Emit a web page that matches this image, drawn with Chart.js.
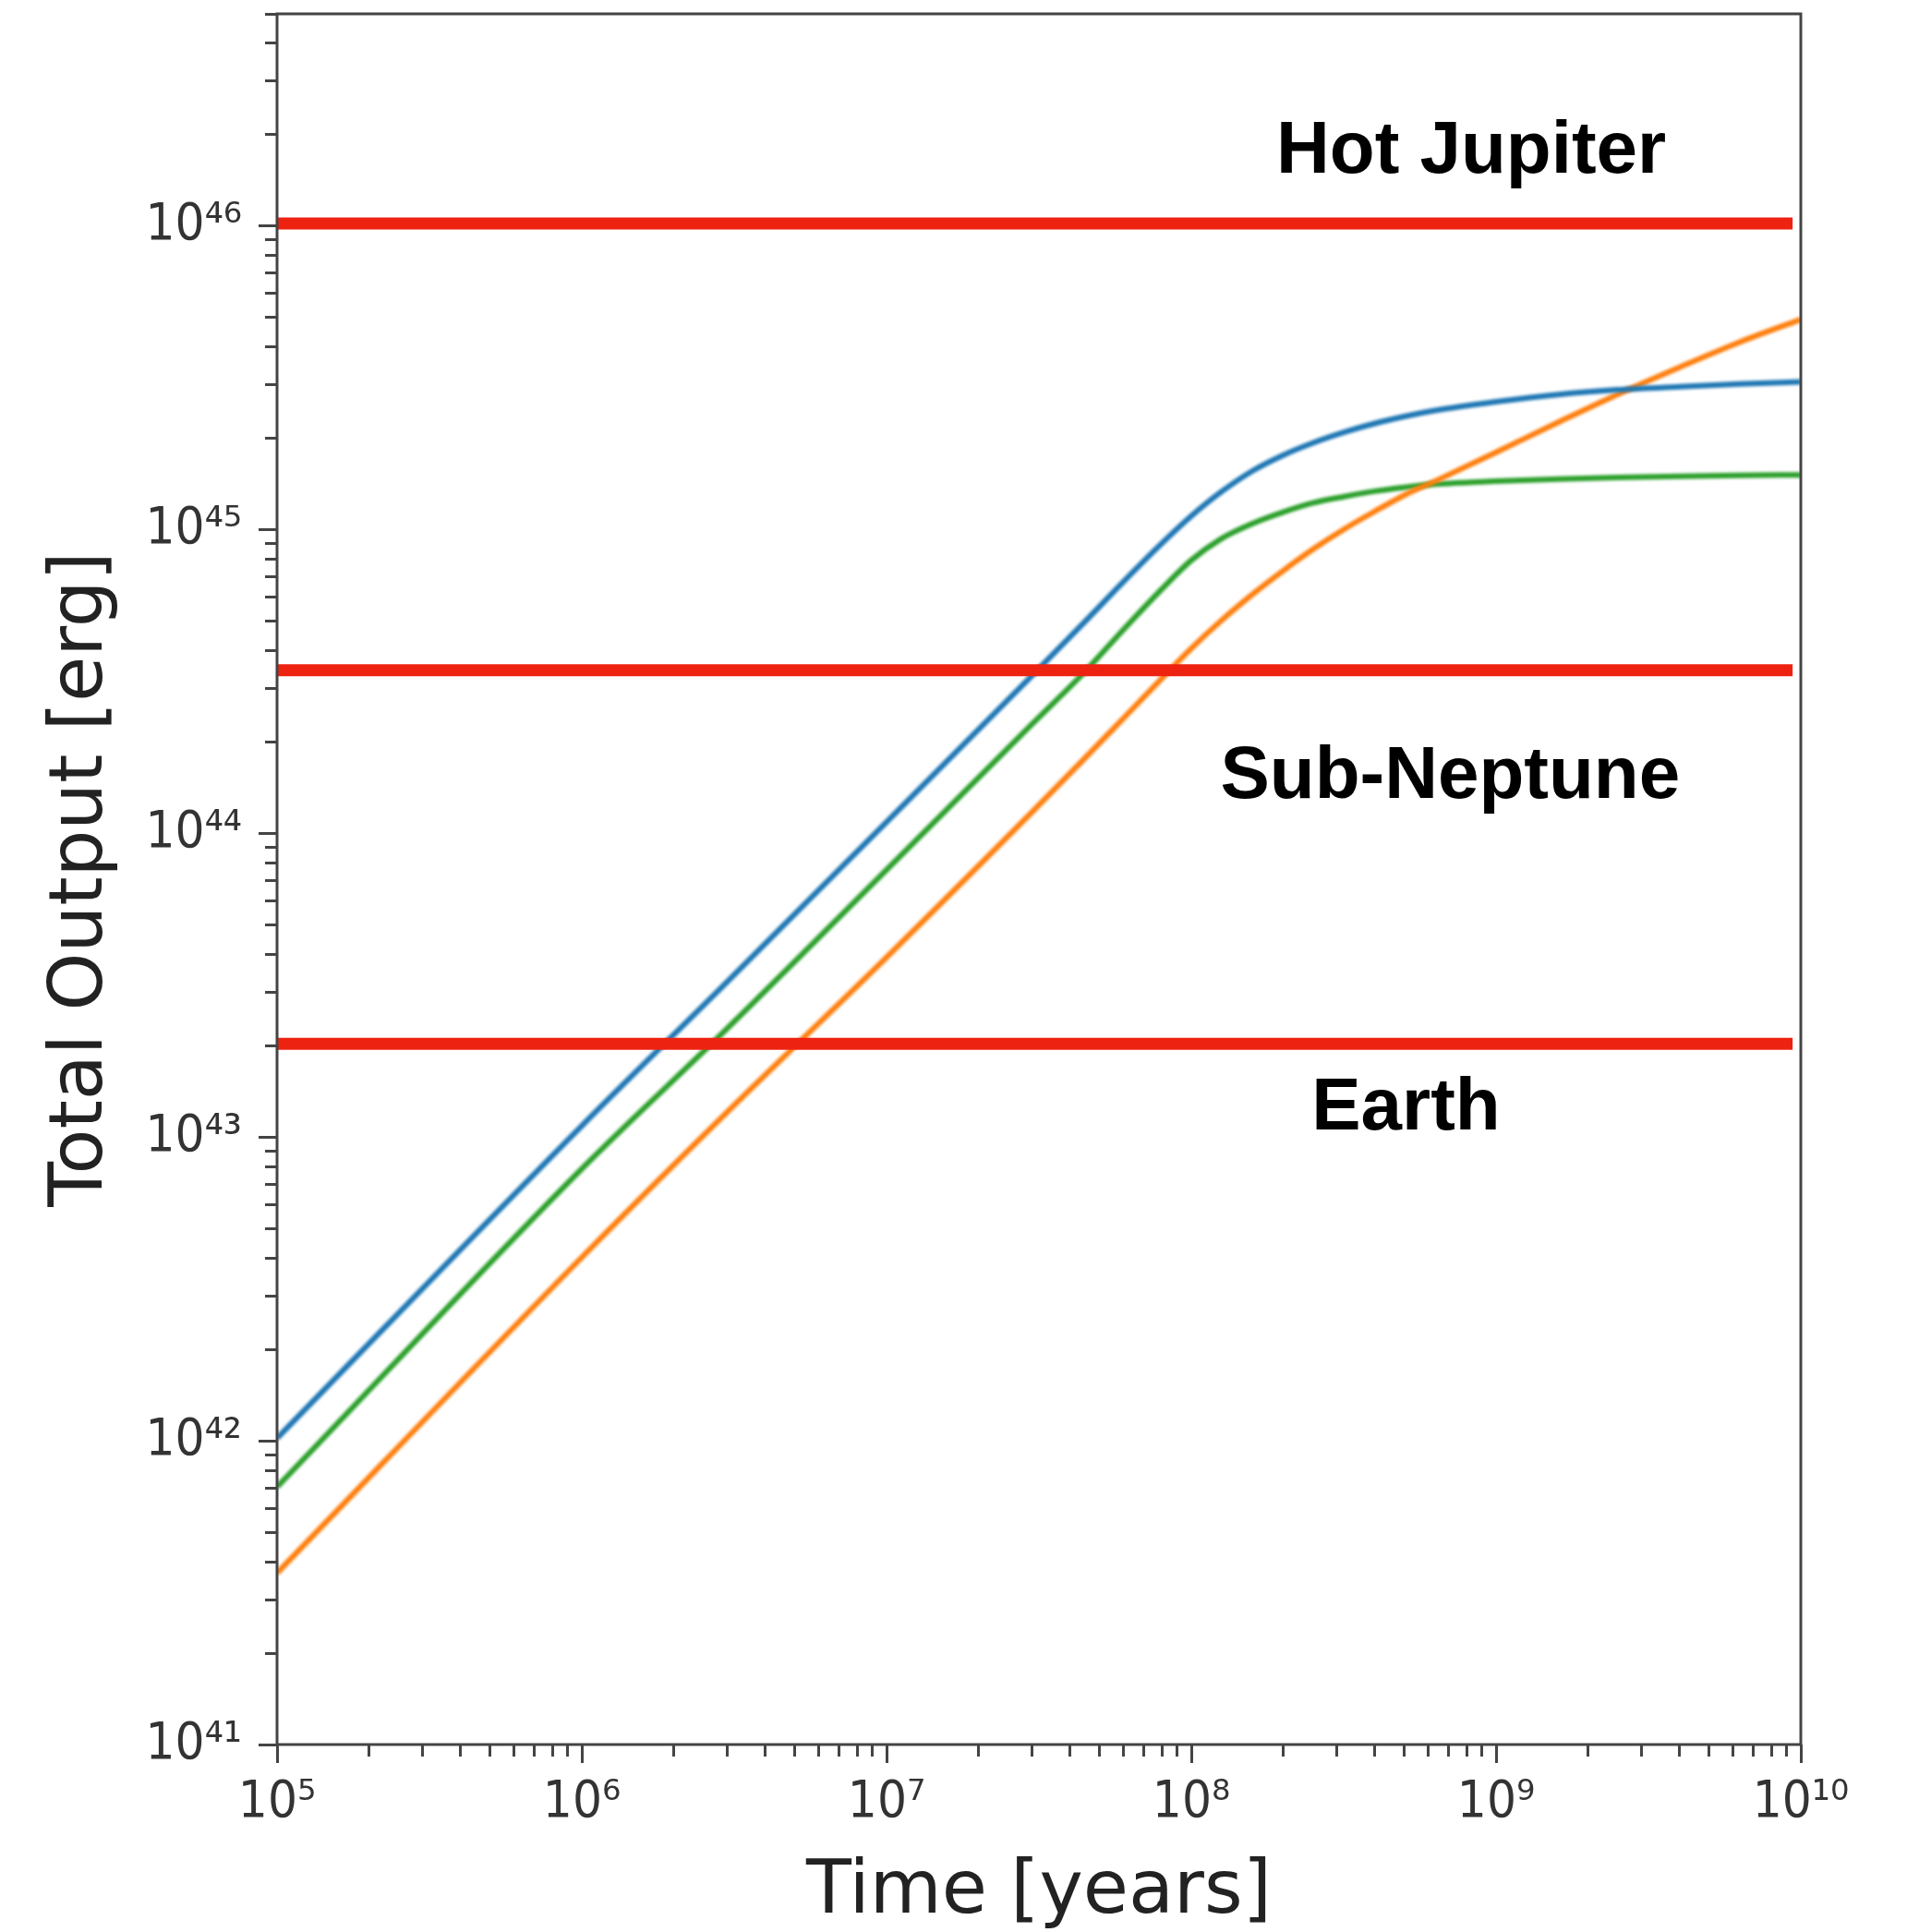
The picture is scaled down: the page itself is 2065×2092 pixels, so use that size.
<!DOCTYPE html>
<html lang="en">
<head>
  <meta charset="UTF-8" />
  <title>Total Output vs Time</title>
  <script src="https://cdn.jsdelivr.net/npm/chart.js"></script>
  <style>
    html, body { margin: 0; padding: 0; background: #fff; }
    .wrap { width: 2065px; height: 2092px; position: relative; }
  </style>
</head>
<body>
  <div class="wrap"><canvas id="outputChart"></canvas></div>

  <script>
    // time grid [years] shared by the three model curves
    const timeYears = [1e5, 1e6, 3e6, 1e7, 3e7, 4.5e7, 6e7, 8e7, 1e8, 1.25e8, 1.6e8, 2e8,
                       2.5e8, 3.2e8, 4e8, 5e8, 6.3e8, 1e9, 1.6e9, 2.5e9, 4e9, 6.3e9, 1e10];

    // cumulative output [erg] for each model
    const blueOutput = [1.02e42, 1.09e43, 3.25e43, 1.09e44, 3.31e44, 5.01e44, 6.76e44, 9.02e44,
                        1.11e45, 1.33e45, 1.57e45, 1.76e45, 1.93e45, 2.10e45, 2.24e45, 2.36e45,
                        2.47e45, 2.64e45, 2.79e45, 2.89e45, 2.96e45, 3.02e45, 3.07e45];
    const orangeOutput = [3.67e41, 4.02e42, 1.21e43, 3.91e43, 1.175e44, 1.78e44, 2.40e44, 3.24e44,
                          4.07e44, 5.01e44, 6.17e44, 7.33e44, 8.61e44, 1.01e45, 1.15e45, 1.30e45,
                          1.445e45, 1.80e45, 2.26e45, 2.79e45, 3.43e45, 4.15e45, 4.93e45];
    const greenOutput = [7.05e41, 7.87e42, 2.28e43, 7.59e43, 2.29e44, 3.43e44, 4.70e44, 6.38e44,
                         7.94e44, 9.33e44, 1.052e45, 1.143e45, 1.225e45, 1.288e45, 1.34e45, 1.38e45,
                         1.413e45, 1.445e45, 1.469e45, 1.486e45, 1.50e45, 1.51e45, 1.517e45];

    // energy needed for each planet class [erg]
    const planetNames = ['Hot Jupiter', 'Sub-Neptune', 'Earth'];
    const planetEnergy = [1.02e46, 3.45e44, 2.03e43];
    const planetSpan = [1e5, 9.4e9];

    // label anchors in data units (left edge, baseline)
    const labelTime = [1.9e8, 1.245e8, 2.48e8];
    const labelEnergy = [1.5e46, 1.31e44, 1.06e43];

    // axis limits and decades that get a label
    const xMin = 1e5, xMax = 1e10;
    const yMin = 1e41, yMax = 5e46;
    const xDecades = [5, 6, 7, 8, 9, 10];
    const yDecades = [41, 42, 43, 44, 45, 46];

    const SUP = { '0': '⁰', '1': '¹', '2': '²', '3': '³', '4': '⁴', '5': '⁵', '6': '⁶', '7': '⁷', '8': '⁸', '9': '⁹' };
    const TICK_FONT = "'DejaVu Sans Condensed', 'DejaVu Sans', sans-serif";

    // major tick at each decade, minor ticks at 2..9 in between
    function logTicks(decades, top) {
      const ticks = [];
      decades.forEach(e => {
        for (let m = 1; m <= 9; m++) {
          const v = m * Math.pow(10, e);
          if (v > top * 1.0001) break;
          ticks.push({ value: v, major: m === 1 });
        }
      });
      return ticks;
    }
    const xTicks = logTicks(xDecades, xMax);
    const yTicks = logTicks(yDecades, yMax);

    function powerLabel(value) {
      const e = Math.round(Math.log10(value));
      if (Math.abs(value / Math.pow(10, e) - 1) > 1e-6) return '';
      return '10' + String(e).split('').map(d => SUP[d]).join('');
    }

    function series(values) {
      return timeYears.map((t, i) => ({ x: t, y: values[i] }));
    }

    const curveStyle = { borderWidth: 6, pointRadius: 0, fill: false, cubicInterpolationMode: 'monotone', order: 2 };

    const datasets = [
      Object.assign({ label: 'blue', data: series(blueOutput), borderColor: '#1f77b4' }, curveStyle),
      Object.assign({ label: 'orange', data: series(orangeOutput), borderColor: '#ff7f0e' }, curveStyle),
      Object.assign({ label: 'green', data: series(greenOutput), borderColor: '#2ca02c' }, curveStyle)
    ];
    planetEnergy.forEach((e, i) => {
      datasets.push({
        label: planetNames[i],
        data: planetSpan.map(t => ({ x: t, y: e })),
        borderColor: '#ee2211',
        borderWidth: 13,
        pointRadius: 0,
        order: 1
      });
    });

    // model curves are slightly soft, the planet lines are crisp
    const softCurves = {
      id: 'softCurves',
      beforeDatasetDraw(chart, args) {
        if (args.index < 3) {
          chart.ctx.save();
          chart.ctx.filter = 'blur(1.5px)';
        }
      },
      afterDatasetDraw(chart, args) {
        if (args.index < 3) chart.ctx.restore();
      }
    };

    // axes box on all four sides
    const frame = {
      id: 'frame',
      afterDatasetsDraw(chart) {
        const { ctx, chartArea: a } = chart;
        ctx.save();
        ctx.strokeStyle = '#444';
        ctx.lineWidth = 3;
        ctx.strokeRect(a.left, a.top, a.right - a.left, a.bottom - a.top);
        ctx.restore();
      }
    };

    const planetLabels = {
      id: 'planetLabels',
      afterDraw(chart) {
        const { ctx, scales } = chart;
        ctx.save();
        ctx.font = "bold 80px 'Liberation Sans', Arial, Helvetica, sans-serif";
        ctx.fillStyle = '#000';
        ctx.textAlign = 'left';
        ctx.textBaseline = 'alphabetic';
        planetNames.forEach((name, i) => {
          ctx.fillText(name, scales.x.getPixelForValue(labelTime[i]), scales.y.getPixelForValue(labelEnergy[i]));
        });
        ctx.restore();
      }
    };

    const tickGrid = (minorDash) => ({
      drawOnChartArea: false,
      drawTicks: true,
      tickLength: 20,
      tickWidth: 3,
      tickColor: '#444',
      tickBorderDash: c => (c.tick && c.tick.major) ? [] : minorDash
    });

    new Chart(document.getElementById('outputChart'), {
      type: 'line',
      data: { datasets: datasets },
      options: {
        responsive: true,
        maintainAspectRatio: false,
        animation: false,
        layout: { padding: { top: 15, right: 115, bottom: 0, left: 0 } },
        plugins: { legend: { display: false }, tooltip: { enabled: false } },
        scales: {
          x: {
            type: 'logarithmic',
            position: 'bottom',
            min: xMin,
            max: xMax,
            afterBuildTicks: s => { s.ticks = xTicks.map(t => ({ value: t.value, major: t.major })); },
            afterFit: s => { s.height = 203; s.paddingLeft = 0; s.paddingRight = 0; },
            border: { display: false },
            grid: tickGrid([13, 100]),
            ticks: {
              autoSkip: false, maxRotation: 0, minRotation: 0, padding: 10,
              color: '#333', font: { family: TICK_FONT, size: 56 },
              callback: v => powerLabel(v)
            },
            title: {
              display: true, text: 'Time [years]', color: '#222',
              font: { family: "'DejaVu Sans', sans-serif", size: 80, lineHeight: 1 },
              padding: { top: 0, bottom: 2 }
            }
          },
          y: {
            type: 'logarithmic',
            position: 'left',
            min: yMin,
            max: yMax,
            afterBuildTicks: s => { s.ticks = yTicks.map(t => ({ value: t.value, major: t.major })); },
            afterFit: s => { s.width = 300; s.paddingTop = 0; s.paddingBottom = 0; },
            border: { display: false },
            grid: tickGrid([0, 7, 13, 100]),
            ticks: {
              autoSkip: false, padding: 18,
              color: '#333', font: { family: TICK_FONT, size: 56 },
              callback: v => powerLabel(v)
            },
            title: {
              display: true, text: 'Total Output [erg]', color: '#222',
              font: { family: "'DejaVu Sans', sans-serif", size: 80, lineHeight: 1 },
              padding: { top: 49, bottom: 0 }
            }
          }
        }
      },
      plugins: [softCurves, frame, planetLabels]
    });
  </script>
</body>
</html>
